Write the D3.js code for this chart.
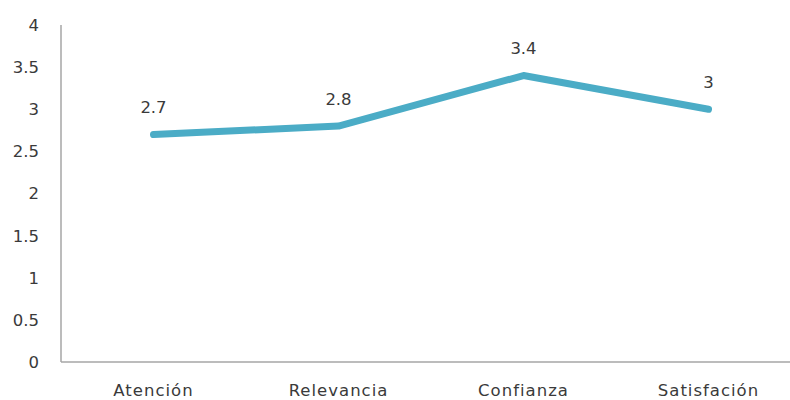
<!DOCTYPE html>
<html lang="es">
    <head>
        <meta charset="utf-8">
        <title>Line chart</title>
        <script src="https://cdn.jsdelivr.net/npm/d3@7"></script>
        <style>
            body { margin: 0; background: #fff; }
            text { font-family: "DejaVu Sans", sans-serif; fill: #3a3a3a; font-size: 16.5px; }
        </style>
    </head>
    <body>
        <script type="text/javascript">

            // size
            var w = 790;
            var h = 400;

            // data
            var categories = ["Atención", "Relevancia", "Confianza", "Satisfación"];
            var values = [2.7, 2.8, 3.4, 3];
            var yTicks = [0, 0.5, 1, 1.5, 2, 2.5, 3, 3.5, 4];

            // plot area (window.top is taken, so no "top" here)
            var plotLeft = 61, plotRight = 801, plotTop = 25, plotBottom = 362;

            var x = d3.scaleBand()
                .domain(categories)
                .range([plotLeft, plotRight]);

            var y = d3.scaleLinear()
                .domain([0, 4])
                .range([plotBottom, plotTop]);

            var cx = function(d, i) { return x(categories[i]) + x.bandwidth() / 2; };

            var svg = d3.select("body")
                .append("svg")
                .attr("width", w)
                .attr("height", h);

            // y axis line
            svg.append("line")
                .attr("x1", plotLeft).attr("x2", plotLeft)
                .attr("y1", y(4)).attr("y2", y(0))
                .attr("stroke", "#a6a6a6")
                .attr("stroke-width", 1.5);

            // x axis line
            svg.append("line")
                .attr("x1", plotLeft).attr("x2", plotRight)
                .attr("y1", y(0)).attr("y2", y(0))
                .attr("stroke", "#a6a6a6")
                .attr("stroke-width", 1.5);

            // y tick labels
            svg.selectAll("text.ytick")
                .data(yTicks)
                .enter()
                .append("text")
                .attr("class", "ytick")
                .attr("x", 39)
                .attr("y", function(d) { return y(d); })
                .attr("dy", "0.36em")
                .attr("text-anchor", "end")
                .text(function(d) { return d; });

            // category labels
            svg.selectAll("text.xtick")
                .data(categories)
                .enter()
                .append("text")
                .attr("class", "xtick")
                .attr("x", function(d) { return x(d) + x.bandwidth() / 2; })
                .attr("y", 396)
                .attr("text-anchor", "middle")
                .style("letter-spacing", "1px")
                .text(function(d) { return d; });

            // the line
            var line = d3.line()
                .x(cx)
                .y(function(d) { return y(d); });

            svg.append("path")
                .datum(values)
                .attr("d", line)
                .attr("fill", "none")
                .attr("stroke", "#4bacc6")
                .attr("stroke-width", 7)
                .attr("stroke-linecap", "round")
                .attr("stroke-linejoin", "round");

            // value labels
            svg.selectAll("text.val")
                .data(values)
                .enter()
                .append("text")
                .attr("class", "val")
                .attr("x", cx)
                .attr("y", function(d) { return y(d) - 27; })
                .attr("dy", "0.36em")
                .attr("text-anchor", "middle")
                .text(function(d) { return d; });

        </script>
    </body>
</html>
